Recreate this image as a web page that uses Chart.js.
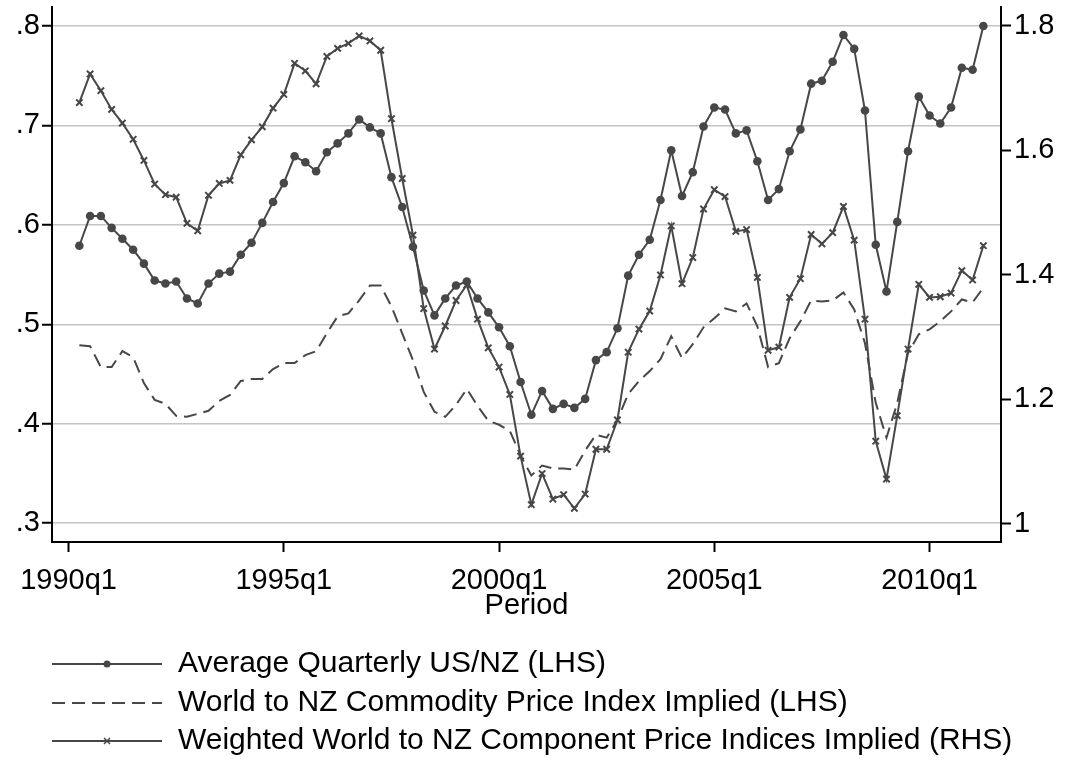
<!DOCTYPE html>
<html>
<head>
<meta charset="utf-8">
<script src="https://cdn.jsdelivr.net/npm/chart.js@4.4.1/dist/chart.umd.min.js"></script>
<style>
  html, body { margin: 0; padding: 0; background: #fff; }
  #wrap { width: 1068px; height: 765px; }
</style>
</head>
<body>
<div id="wrap"><canvas id="grafico" width="1068" height="765"></canvas></div>
<script>
// quarters 1990q2 .. 2011q2 (position = quarters since 1990q1)
const quarters = [];
for (let ano = 1990; ano <= 2011; ano++) {
  for (let q = 1; q <= 4; q++) quarters.push(ano + 'q' + q);
}
const firstIdx = 1, lastIdx = 85;

const seriesNames = [
  'Average Quarterly US/NZ (LHS)',
  'World to NZ Commodity Price Index Implied (LHS)',
  'Weighted World to NZ Component Price Indices Implied (RHS)'
];

const usNz = [
  .579, .609, .609, .597, .586, .575, .561, .544, .541, .543,
  .526, .521, .541, .551, .553, .570, .582, .602, .623, .642,
  .669, .663, .654, .673, .682, .692, .706, .698, .692, .648,
  .618, .578, .534, .509, .526, .539, .543, .526, .512, .497,
  .478, .442, .409, .433, .415, .420, .416, .425, .464, .472,
  .496, .549, .570, .585, .625, .675, .629, .653, .699, .718,
  .716, .692, .695, .664, .625, .636, .674, .696, .742, .745,
  .764, .791, .777, .715, .580, .533, .603, .674, .729, .710,
  .702, .718, .758, .756, .800
];

const commodity = [
  .479, .478, .457, .457, .473, .467, .441, .424, .420, .408,
  .407, .410, .413, .423, .429, .443, .445, .445, .455, .461,
  .461, .469, .473, .491, .508, .511, .524, .539, .539, .518,
  .491, .464, .432, .412, .407, .419, .435, .418, .403, .399,
  .393, .368, .348, .358, .355, .355, .354, .373, .389, .386,
  .404, .430, .443, .453, .465, .488, .466, .480, .497, .506,
  .516, .513, .521, .498, .457, .461, .486, .503, .524, .523,
  .524, .532, .515, .481, .421, .386, .421, .471, .490, .495,
  .503, .513, .525, .522, .537
];

const weighted = [
  1.677, 1.723, 1.696, 1.666, 1.644, 1.618, 1.584, 1.546, 1.529, 1.525,
  1.483, 1.471, 1.528, 1.547, 1.552, 1.593, 1.617, 1.638, 1.668, 1.690,
  1.740, 1.728, 1.707, 1.751, 1.764, 1.772, 1.784, 1.776, 1.761, 1.651,
  1.555, 1.464, 1.346, 1.281, 1.318, 1.359, 1.384, 1.329, 1.283, 1.252,
  1.208, 1.109, 1.031, 1.081, 1.040, 1.047, 1.025, 1.048, 1.120, 1.120,
  1.167, 1.276, 1.313, 1.342, 1.400, 1.479, 1.386, 1.428, 1.506, 1.537,
  1.526, 1.470, 1.473, 1.396, 1.279, 1.284, 1.364, 1.394, 1.465, 1.450,
  1.468, 1.510, 1.456, 1.329, 1.133, 1.072, 1.174, 1.281, 1.385, 1.364,
  1.365, 1.371, 1.407, 1.392, 1.447
];

const xTickPos = [0, 20, 40, 60, 80];
const xTickLabels = ['1990q1', '1995q1', '2000q1', '2005q1', '2010q1'];
const leftTicks = [.3, .4, .5, .6, .7, .8];
const leftTickLabels = ['.3', '.4', '.5', '.6', '.7', '.8'];
const rightTicks = [1, 1.2, 1.4, 1.6, 1.8];
const rightTickLabels = ['1', '1.2', '1.4', '1.6', '1.8'];

const cor = '#474747';
const fonte = 'Liberation Sans, Arial, sans-serif';

function pontos(valores) {
  return valores.map((v, i) => ({ x: firstIdx + i, y: v }));
}

// eixos verticais sem folga extra em cima/embaixo
function semFolga(s) {
  s.paddingTop = 0;
  s.paddingBottom = 0;
}

// legenda no estilo Stata, embaixo do gráfico
const legendaStata = {
  id: 'legendaStata',
  afterDraw(chart) {
    const ctx = chart.ctx;
    const linhas = [664, 703, 741];
    ctx.save();
    chart.data.datasets.forEach((ds, i) => {
      const y = linhas[i];
      ctx.strokeStyle = cor;
      ctx.lineWidth = 2;
      ctx.setLineDash(ds.borderDash || []);
      ctx.beginPath();
      ctx.moveTo(52, y);
      ctx.lineTo(162, y);
      ctx.stroke();
      ctx.setLineDash([]);
      if (ds.pointStyle === 'circle') {
        ctx.fillStyle = cor;
        ctx.beginPath();
        ctx.arc(107, y, 3.5, 0, Math.PI * 2);
        ctx.fill();
      } else if (ds.pointStyle === 'crossRot') {
        ctx.lineWidth = 1.5;
        ctx.beginPath();
        ctx.moveTo(104, y - 3); ctx.lineTo(110, y + 3);
        ctx.moveTo(110, y - 3); ctx.lineTo(104, y + 3);
        ctx.stroke();
      }
      ctx.fillStyle = '#000';
      ctx.font = '30px ' + fonte;
      ctx.textBaseline = 'middle';
      ctx.textAlign = 'left';
      ctx.fillText(ds.label, 178, y);
    });
    ctx.restore();
  }
};

new Chart(document.getElementById('grafico').getContext('2d'), {
  type: 'line',
  data: {
    datasets: [
      {
        label: seriesNames[0], data: pontos(usNz), yAxisID: 'yL',
        borderColor: cor, borderWidth: 2, backgroundColor: cor,
        pointStyle: 'circle', pointRadius: 4.3, pointBorderWidth: 0,
        pointBackgroundColor: cor, tension: 0
      },
      {
        label: seriesNames[1], data: pontos(commodity), yAxisID: 'yL',
        borderColor: cor, borderWidth: 2, borderDash: [13, 7],
        pointRadius: 0, pointStyle: false, tension: 0
      },
      {
        label: seriesNames[2], data: pontos(weighted), yAxisID: 'yR',
        borderColor: cor, borderWidth: 2,
        pointStyle: 'crossRot', pointRadius: 4.5, pointBorderWidth: 2,
        pointBorderColor: cor, tension: 0
      }
    ]
  },
  options: {
    responsive: false,
    animation: false,
    layout: { padding: { top: 7, bottom: 142, left: 0, right: 0 } },
    plugins: {
      legend: { display: false },
      tooltip: { enabled: false }
    },
    scales: {
      x: {
        type: 'linear',
        min: -1.54, max: 86.64,
        afterBuildTicks: s => { s.ticks = xTickPos.map(v => ({ value: v })); },
        afterFit: s => { s.height = 81; },
        ticks: {
          color: '#000', font: { family: fonte, size: 29 }, padding: 12,
          maxRotation: 0, autoSkip: false,
          callback: v => xTickLabels[xTickPos.indexOf(v)]
        },
        grid: { drawOnChartArea: false, tickLength: 10, tickColor: '#000', tickWidth: 2 },
        border: { display: true, color: '#000', width: 2 },
        title: { display: true, text: 'Period', color: '#000', font: { family: fonte, size: 29 }, padding: 0 }
      },
      yL: {
        position: 'left',
        min: 0.2811, max: 0.8191,
        afterBuildTicks: s => { s.ticks = leftTicks.map(v => ({ value: v })); },
        afterFit: s => { s.width = 52; semFolga(s); },
        ticks: {
          color: '#000', font: { family: fonte, size: 29 }, padding: 2,
          callback: v => leftTickLabels[leftTicks.findIndex(t => Math.abs(t - v) < 1e-9)]
        },
        grid: { color: '#c4c4c4', lineWidth: 1.5, tickLength: 10, tickColor: '#000', tickWidth: 2 },
        border: { display: true, color: '#000', width: 2 }
      },
      yR: {
        position: 'right',
        min: 0.971, max: 1.8305,
        afterBuildTicks: s => { s.ticks = rightTicks.map(v => ({ value: v })); },
        afterFit: s => { s.width = 67; semFolga(s); },
        ticks: {
          color: '#000', font: { family: fonte, size: 29 }, padding: 3,
          callback: v => rightTickLabels[rightTicks.findIndex(t => Math.abs(t - v) < 1e-9)]
        },
        grid: { drawOnChartArea: false, tickLength: 10, tickColor: '#000', tickWidth: 2 },
        border: { display: true, color: '#000', width: 2 }
      }
    }
  },
  plugins: [legendaStata]
});
</script>
</body>
</html>
